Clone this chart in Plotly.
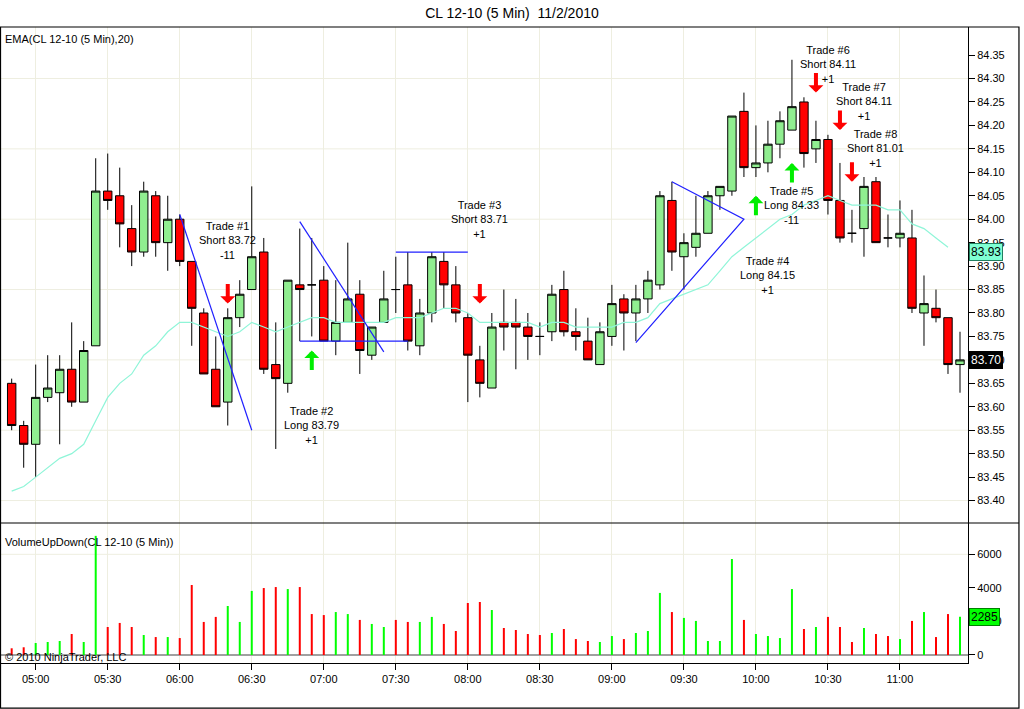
import plotly.graph_objects as go
import pandas as pd

# ---------------- data ----------------
times = pd.date_range("2010-11-02 04:50", periods=80, freq="5min")

opens = [83.65, 83.56, 83.52, 83.62, 83.63, 83.68, 83.61, 83.73, 84.06, 84.05,
         83.98, 83.93, 84.05, 83.95, 84.00, 83.91, 83.80, 83.68, 83.61, 83.79,
         83.85, 83.93, 83.69, 83.65, 83.86, 83.86, 83.87, 83.74, 83.78, 83.84,
         83.71, 83.78, 83.85, 83.86, 83.73, 83.80, 83.91, 83.86, 83.79, 83.70,
         83.64, 83.78, 83.78, 83.77, 83.75, 83.76, 83.85, 83.76, 83.74, 83.69,
         83.75, 83.83, 83.80, 83.83, 83.86, 84.04, 83.92, 83.94, 83.97, 84.05,
         84.06, 84.23, 84.11, 84.12, 84.16, 84.19, 84.25, 84.15, 84.17, 84.04,
         83.97, 83.98, 84.08, 83.96, 83.96, 83.96, 83.80, 83.81, 83.79, 83.69]
highs = [83.66, 83.57, 83.69, 83.71, 83.71, 83.78, 83.74, 84.13, 84.14, 84.11,
         84.03, 84.08, 84.06, 84.05, 84.01, 83.91, 83.81, 83.75, 83.81, 83.87,
         84.07, 83.96, 83.78, 83.87, 83.98, 83.96, 83.90, 83.87, 83.95, 83.87,
         83.77, 83.89, 83.92, 83.93, 83.83, 83.93, 83.93, 83.90, 83.80, 83.73,
         83.80, 83.85, 83.83, 83.80, 83.78, 83.86, 83.89, 83.81, 83.79, 83.78,
         83.86, 83.84, 83.86, 83.89, 84.06, 84.08, 83.97, 84.05, 84.06, 84.07,
         84.22, 84.27, 84.20, 84.21, 84.23, 84.34, 84.26, 84.21, 84.18, 84.12,
         84.02, 84.09, 84.09, 84.01, 84.04, 84.02, 83.88, 83.85, 83.79, 83.76]
lows = [83.55, 83.47, 83.45, 83.61, 83.52, 83.60, 83.61, 83.73, 84.02, 83.94,
        83.90, 83.92, 83.92, 83.89, 83.90, 83.73, 83.67, 83.60, 83.56, 83.77,
        83.85, 83.67, 83.51, 83.63, 83.74, 83.75, 83.74, 83.71, 83.78, 83.67,
        83.70, 83.78, 83.80, 83.72, 83.71, 83.78, 83.81, 83.78, 83.61, 83.62,
        83.64, 83.72, 83.68, 83.70, 83.71, 83.74, 83.75, 83.72, 83.70, 83.69,
        83.73, 83.72, 83.74, 83.80, 83.85, 83.89, 83.85, 83.92, 83.97, 84.02,
        84.05, 84.09, 84.09, 84.10, 84.13, 84.19, 84.11, 84.12, 84.01, 83.95,
        83.95, 83.92, 83.95, 83.94, 83.94, 83.80, 83.73, 83.78, 83.67, 83.63]
closes = [83.56, 83.52, 83.62, 83.64, 83.68, 83.61, 83.72, 84.06, 84.04, 83.99,
          83.93, 84.06, 83.95, 84.00, 83.91, 83.81, 83.67, 83.60, 83.79, 83.84,
          83.92, 83.68, 83.66, 83.87, 83.85, 83.86, 83.74, 83.78, 83.83, 83.72,
          83.77, 83.83, 83.85, 83.74, 83.80, 83.92, 83.86, 83.80, 83.71, 83.65,
          83.77, 83.77, 83.77, 83.75, 83.75, 83.84, 83.76, 83.75, 83.70, 83.76,
          83.82, 83.80, 83.83, 83.87, 84.05, 83.93, 83.95, 83.97, 84.05, 84.07,
          84.22, 84.11, 84.12, 84.16, 84.21, 84.24, 84.14, 84.17, 84.04, 83.96,
          83.97, 84.07, 83.95, 83.96, 83.97, 83.81, 83.82, 83.79, 83.69, 83.70]

ema20 = [83.42, 83.43, 83.45, 83.47, 83.49, 83.50, 83.52, 83.57, 83.62, 83.65,
         83.67, 83.71, 83.73, 83.76, 83.78, 83.78, 83.77, 83.76, 83.75, 83.76,
         83.78, 83.77, 83.76, 83.77, 83.78, 83.79, 83.79, 83.78, 83.78, 83.78,
         83.78, 83.78, 83.79, 83.79, 83.79, 83.80, 83.81, 83.81, 83.80, 83.78,
         83.78, 83.78, 83.78, 83.78, 83.77, 83.78, 83.78, 83.77, 83.77, 83.77,
         83.77, 83.78, 83.78, 83.79, 83.82, 83.83, 83.84, 83.85, 83.86, 83.89,
         83.92, 83.94, 83.96, 83.98, 84.00, 84.01, 84.03, 84.04, 84.05, 84.04,
         84.03, 84.03, 84.03, 84.02, 84.02, 83.99, 83.98, 83.96, 83.94, None]
ema_last = 83.93

volumes = [400, 460, 715, 775, 835, 1250, 775, 7100, 1670, 1910,
           1670, 1190, 1070, 1070, 1010, 4170, 1970, 2270, 2920, 1970,
           3820, 3990, 4050, 3930, 4050, 2440, 2380, 2560, 2440, 2090,
           1850, 1670, 2090, 1970, 1970, 2270, 1850, 1430, 3100, 3160,
           2680, 1610, 1490, 1250, 1190, 1310, 1550, 950, 835, 775,
           1130, 950, 1310, 1430, 3700, 2560, 2210, 2030, 835, 835,
           5720, 2090, 1250, 1130, 1010, 3930, 1550, 1670, 2270, 1670,
           775, 1610, 1250, 1130, 950, 2030, 2560, 1070, 2440, 2285]

price_ticks = [83.40, 83.45, 83.50, 83.55, 83.60, 83.65, 83.70, 83.75, 83.80, 83.85,
               83.90, 83.95, 84.00, 84.05, 84.10, 84.15, 84.20, 84.25, 84.30, 84.35]
price_grid = [83.40, 83.55, 83.70, 83.85, 84.00, 84.15, 84.30]
volume_ticks = [0, 2000, 4000, 6000]
volume_grid = [6000]

# trades: text label position (bar time, price of middle line) and arrows
trade_labels = ["Trade #1<br>Short 83.72<br>-11", "Trade #2<br>Long 83.79<br>+1",
                "Trade #3<br>Short 83.71<br>+1", "Trade #4<br>Long 84.15<br>+1",
                "Trade #5<br>Long 84.33<br>-11", "Trade #6<br>Short 84.11<br>+1",
                "Trade #7<br>Short 84.11<br>+1", "Trade #8<br>Short 81.01<br>+1"]
label_times = ["06:20", "06:55", "08:05", "10:05", "10:15", "10:30", "10:45", "10:50"]
label_prices = [83.955, 83.56, 84.00, 83.88, 84.03, 84.33, 84.25, 84.15]

arrow_times = ["06:20", "06:55", "08:05", "10:00", "10:15", "10:25", "10:35", "10:40"]
arrow_prices = [83.82, 83.72, 83.82, 84.05, 84.12, 84.27, 84.19, 84.08]
arrow_dirs = ["down", "up", "down", "up", "up", "down", "down", "down"]

# drawn trend lines (time, price) pairs
trend_lines = [
    (["06:00", "06:30"], [84.01, 83.55]),
    (["06:50", "07:25"], [83.995, 83.717]),
    (["06:50", "07:35"], [83.74, 83.74]),
    (["07:30", "08:00"], [83.93, 83.93]),
    (["09:10", "09:55", "09:25"], [83.737, 84.00, 84.08]),
]

DAY = "2010-11-02 "
FONT = "Liberation Sans, Arial, sans-serif"

# ---------------- figure ----------------
fig = go.Figure()

fig.add_trace(go.Candlestick(
    x=times, open=opens, high=highs, low=lows, close=closes,
    increasing=dict(fillcolor="#90ee90", line=dict(color="black", width=1)),
    decreasing=dict(fillcolor="#ff0000", line=dict(color="black", width=1)),
    whiskerwidth=0, xaxis="x", yaxis="y", showlegend=False, hoverinfo="skip"))

fig.add_trace(go.Scatter(
    x=times, y=ema20, mode="lines", line=dict(color="#8ff5d8", width=1.2),
    xaxis="x", yaxis="y", showlegend=False, hoverinfo="skip"))

for tx, py in trend_lines:
    fig.add_trace(go.Scatter(
        x=[DAY + t for t in tx], y=py, mode="lines",
        line=dict(color="#2020ff", width=1.2),
        xaxis="x", yaxis="y", showlegend=False, hoverinfo="skip"))

vol_colors = ["#00ff00" if c > o else "#ff0000" for o, c in zip(opens, closes)]
fig.add_trace(go.Bar(
    x=times, y=volumes, marker=dict(color=vol_colors, line=dict(width=0)),
    width=50000, xaxis="x2", yaxis="y2", showlegend=False, hoverinfo="skip"))

t_start = pd.Timestamp("2010-11-02 04:45:33")
t_end = pd.Timestamp("2010-11-02 11:28:20")

split = 0.2201
grid_col = "#eeeee0"

fig.update_layout(
    width=1024, height=709,
    margin=dict(l=1, r=56, t=27, b=46),
    paper_bgcolor="white", plot_bgcolor="white",
    font=dict(family=FONT, size=11, color="black"),
    boxgap=0.3, boxgroupgap=0.0,
    title=dict(text="CL 12-10 (5 Min)\u00a0 11/2/2010", x=0.5, xanchor="center",
               xref="container", y=1 - 13 / 709, yanchor="middle", yref="container",
               font=dict(family=FONT, size=14, color="black")),
    xaxis=dict(domain=[0, 1], anchor="y", matches="x2", range=[t_start, t_end],
               showticklabels=False, showgrid=True, gridcolor=grid_col, gridwidth=1,
               tick0="2010-11-02 05:00", dtick=1800000, ticks="",
               rangeslider=dict(visible=False), showline=False, zeroline=False),
    xaxis2=dict(domain=[0, 1], anchor="y2", range=[t_start, t_end],
                showgrid=True, gridcolor=grid_col, gridwidth=1,
                tick0="2010-11-02 05:00", dtick=1800000, tickformat="%H:%M",
                ticks="outside", ticklen=6, tickcolor="black",
                showline=True, linecolor="black", linewidth=1,
                tickfont=dict(size=11, color="black"), zeroline=False),
    yaxis=dict(domain=[split, 1], anchor="x", side="right",
               range=[83.3521, 84.4099], tickvals=price_ticks, tickformat=".2f",
               ticks="outside", ticklen=6, tickcolor="black",
               showline=True, linecolor="black", linewidth=1,
               showgrid=False, zeroline=False,
               tickfont=dict(size=11, color="black")),
    yaxis2=dict(domain=[0, split], anchor="x2", side="right",
                range=[-477, 7866], tickvals=volume_ticks,
                ticks="outside", ticklen=6, tickcolor="black",
                showline=True, linecolor="black", linewidth=1,
                showgrid=False, zeroline=True, zerolinecolor="#a0a0a0", zerolinewidth=2,
                tickfont=dict(size=11, color="black")),
)

shapes = []
for g in price_grid:
    shapes.append(dict(type="line", xref="paper", yref="y", x0=0, x1=1, y0=g, y1=g,
                       line=dict(color=grid_col, width=1), layer="below"))
for g in volume_grid:
    shapes.append(dict(type="line", xref="paper", yref="y2", x0=0, x1=1, y0=g, y1=g,
                       line=dict(color=grid_col, width=1), layer="below"))
# outer frame and panel separator
shapes.append(dict(type="rect", xref="paper", yref="paper", x0=-0.0005, x1=1.0527,
                   y0=-0.0708, y1=1.0, line=dict(color="black", width=1.2), layer="above"))
shapes.append(dict(type="line", xref="paper", yref="paper", x0=-0.0005, x1=1.0527,
                   y0=split, y1=split, line=dict(color="black", width=1.2), layer="above"))
fig.update_layout(shapes=shapes)

ann = []
ann.append(dict(text="EMA(CL 12-10 (5 Min),20)", xref="paper", yref="paper",
                x=0.002, y=0.9811, xanchor="left", yanchor="middle", showarrow=False,
                font=dict(size=11)))
ann.append(dict(text="VolumeUpDown(CL 12-10 (5 Min))", xref="paper", yref="paper",
                x=0.002, y=0.1907, xanchor="left", yanchor="middle", showarrow=False,
                font=dict(size=11)))
ann.append(dict(text="\u00a9 2010 NinjaTrader, LLC", xref="paper", yref="paper",
                x=0.002, y=0.0099, xanchor="left", yanchor="middle", showarrow=False,
                font=dict(size=11)))

for lab, t, p in zip(trade_labels, label_times, label_prices):
    ann.append(dict(text=lab, x=DAY + t, y=p, xref="x", yref="y", showarrow=False,
                    xanchor="center", yanchor="middle", align="center",
                    font=dict(size=11, color="black")))

for t, p, d in zip(arrow_times, arrow_prices, arrow_dirs):
    col = "#ff0000" if d == "down" else "#00ee00"
    ann.append(dict(text="", x=DAY + t, y=p, xref="x", yref="y", showarrow=True,
                    ax=0, ay=(-21 if d == "down" else 21), axref="pixel", ayref="pixel",
                    arrowhead=1, arrowsize=0.62, arrowwidth=4, arrowcolor=col))

# right-side value markers
ann.append(dict(text=f"{ema_last:.2f}", x=1, y=ema_last,
                xref="paper", yref="y", xanchor="left", yanchor="middle", xshift=1,
                showarrow=False, bgcolor="#7fffd4", bordercolor="#208060", borderwidth=1,
                borderpad=1, font=dict(size=12, color="black")))
ann.append(dict(text=f"{closes[-1]:.2f}", x=1, y=closes[-1],
                xref="paper", yref="y", xanchor="left", yanchor="middle", xshift=1,
                showarrow=False, bgcolor="black", bordercolor="black", borderwidth=1,
                borderpad=1, font=dict(size=12, color="white")))
ann.append(dict(text=str(volumes[-1]), x=1, y=volumes[-1],
                xref="paper", yref="y2", xanchor="left", yanchor="middle", xshift=1,
                showarrow=False, bgcolor="#00ff00", bordercolor="#008000", borderwidth=1,
                borderpad=1, font=dict(size=12, color="black")))
fig.update_layout(annotations=ann)

fig.write_html("out.html", config={"displayModeBar": False},
               post_script="document.body.style.margin='0';document.body.style.overflow='hidden';")
